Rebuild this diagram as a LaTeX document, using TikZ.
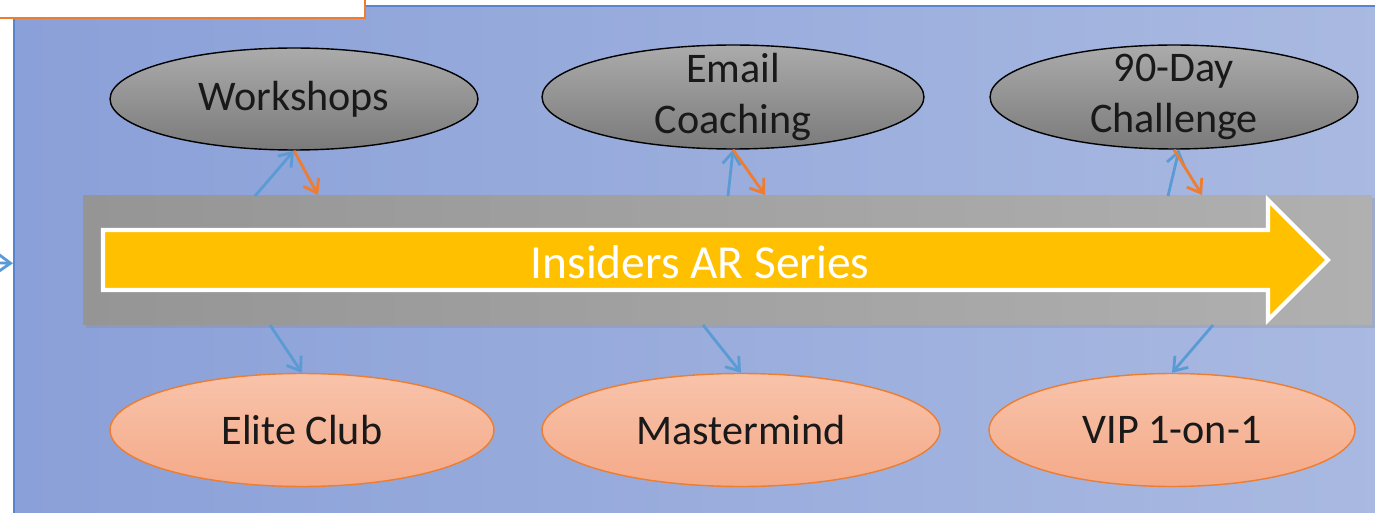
\documentclass[tikz,border=0pt]{standalone}
\usepackage{fontspec}
\setmainfont{Carlito}
\usetikzlibrary{shapes.geometric,arrows.meta,shadows}
\definecolor{panelL}{HTML}{8AA0D8}
\definecolor{panelR}{HTML}{A9B9E1}
\definecolor{panelLine}{HTML}{5B84D0}
\definecolor{bandL}{HTML}{959595}
\definecolor{bandR}{HTML}{B0B0B0}
\definecolor{arrowYel}{HTML}{FFC000}
\definecolor{linkBlue}{HTML}{5B9BD5}
\definecolor{linkOrange}{HTML}{ED7D31}
\definecolor{salmonT}{HTML}{F8C3AA}
\definecolor{salmonB}{HTML}{F4AA89}
\begin{document}
\begin{tikzpicture}[
        x=0.02cm, y=-0.02cm,
        top oval/.style={ellipse, draw=black, line width=0.8pt, top color=black!33, bottom color=black!52,
            inner xsep=0pt, inner ysep=-9pt, align=center, text=black!90, font=\fontsize{24}{29}\selectfont},
        bottom oval/.style={ellipse, draw=linkOrange, line width=0.8pt, top color=salmonT, bottom color=salmonB,
            inner sep=0pt, align=center, text=black!90, font=\fontsize{24}{29}\selectfont},
        up link/.style={draw, linkBlue, line width=1.6pt, -{Straight Barb[length=7pt,width=10pt]}},
        down link/.style={draw, linkOrange, line width=1.6pt, -{Straight Barb[length=7pt,width=10pt]}},
        out link/.style={draw, linkBlue, line width=1.6pt, -{Straight Barb[length=7pt,width=10pt]}},
    ]
	\useasboundingbox (0,0) rectangle (1375,513);
	\node[rectangle, draw=panelLine, line width=0.9pt, left color=panelL, right color=panelR,
	    minimum width=27.5cm, minimum height=10.3cm, anchor=north west] (panel) at (13,5) {};
	\draw[linkOrange, fill=white, line width=1.7pt] (-10,-10) rectangle (365,18);
	\coordinate (feed) at (-30,262.5);
	\draw[out link] (feed) -- (panel.west);
	\node[rectangle, left color=bandL, right color=bandR, minimum width=25.78cm, minimum height=2.6cm,
	    inner sep=0pt, drop shadow={shadow xshift=1.5pt, shadow yshift=-1.5pt, opacity=0.25}] (band) at (727.5,260) {};
	\fill[arrowYel, draw=white, line width=2.3pt, line join=miter]
	    (103,230) -- (1268,230) -- (1268,200) -- (1328,260) -- (1268,320) -- (1268,290) -- (103,290) -- cycle;
	\node[text=white, font=\fontsize{27}{32}\selectfont] (series) at (700,262) {Insiders AR Series};
	\node[top oval, minimum width=7.36cm, minimum height=2.04cm] (top_1) at (294,99) {Workshops};
	\node[top oval, minimum width=7.64cm, minimum height=2.08cm] (top_2) at (733,97) {Email\\Coaching};
	\node[top oval, minimum width=7.36cm, minimum height=2.08cm] (top_3) at (1174,97) {90-Day\\Challenge};
	\node[bottom oval, minimum width=7.68cm, minimum height=2.26cm] (bot_1) at (302,430) {Elite Club};
	\node[bottom oval, minimum width=7.96cm, minimum height=2.26cm] (bot_2) at (741,430) {Mastermind};
	\node[bottom oval, minimum width=7.32cm, minimum height=2.26cm] (bot_3) at (1172,430) {VIP 1-on-1};
	\coordinate (up_1) at (255,196);
	\coordinate (up_2) at (728,196);
	\coordinate (up_3) at (1168,196);
	\coordinate (dn_1) at (318,195);
	\coordinate (dn_2) at (765,195);
	\coordinate (dn_3) at (1202,195);
	\coordinate (out_1) at (270,325);
	\coordinate (out_2) at (703,325);
	\coordinate (out_3) at (1213,325);
	\draw[up link] (up_1) -- (top_1.south);
	\draw[up link] (up_2) -- (top_2.south);
	\draw[up link] (up_3) -- ([xshift=0.1cm]top_3.south);
	\draw[down link] (top_1.south) -- (dn_1);
	\draw[down link] (top_2.south) -- (dn_2);
	\draw[down link] (top_3.south) -- (dn_3);
	\draw[up link] (out_1) -- (bot_1.north);
	\draw[up link] (out_2) -- (bot_2.north);
	\draw[up link] (out_3) -- (bot_3.north);
    \end{tikzpicture}
\end{document}
